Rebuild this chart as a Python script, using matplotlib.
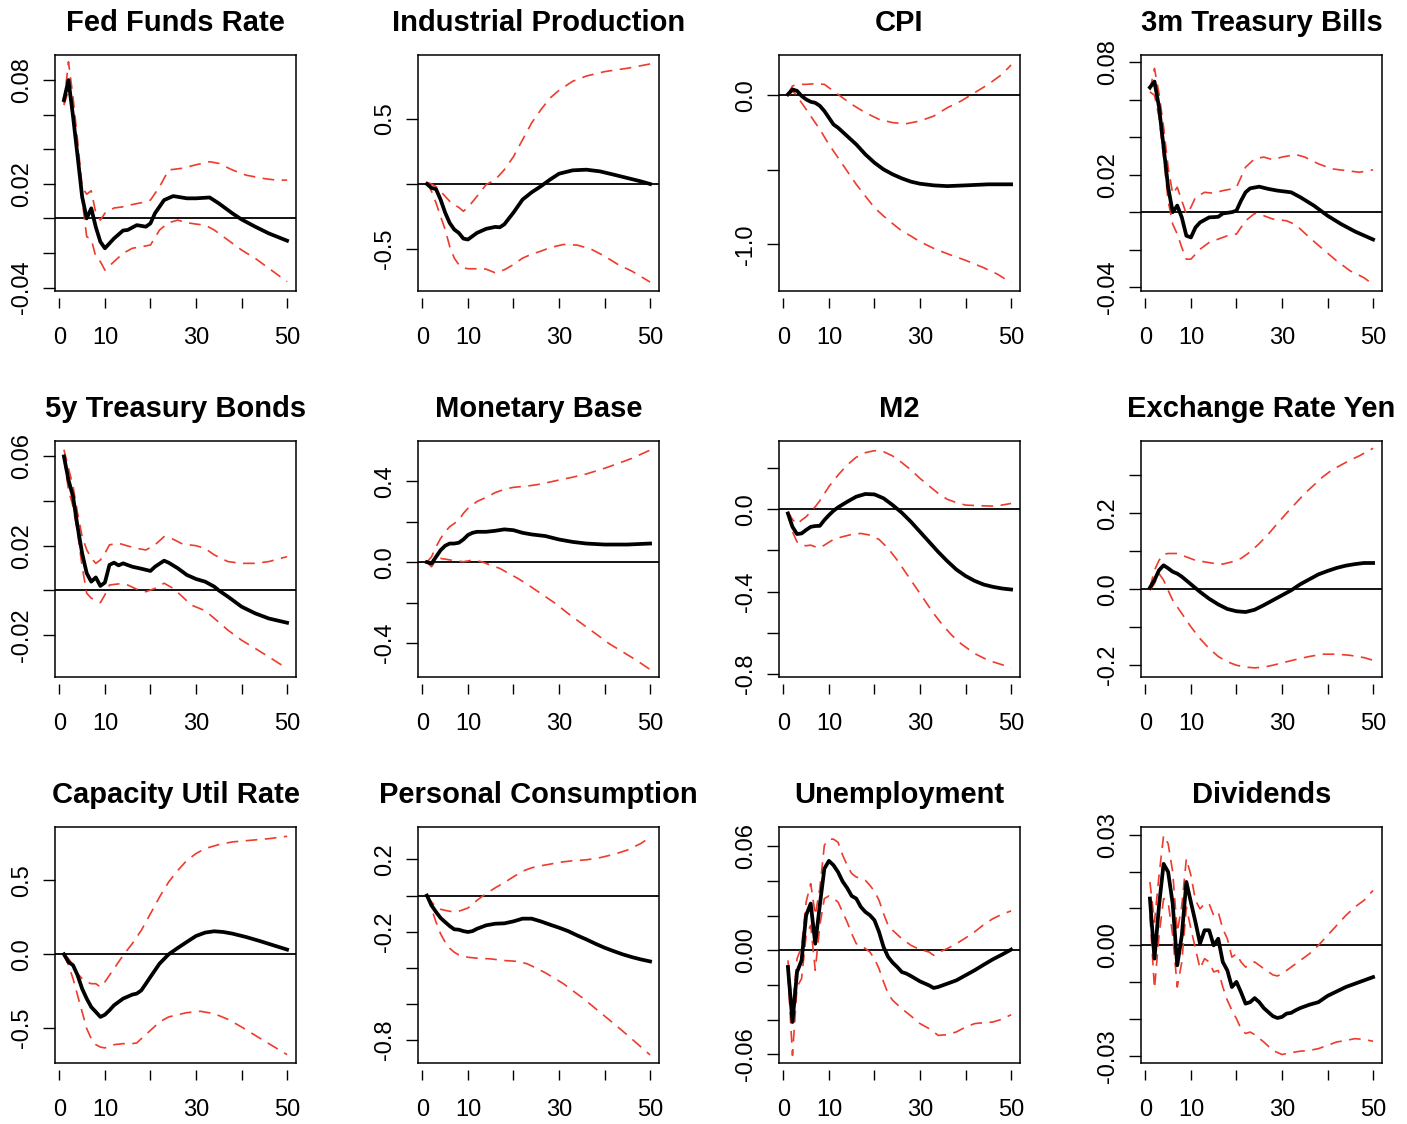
import matplotlib
matplotlib.use('Agg')
import matplotlib.pyplot as plt

# impulse responses (horizon, value)
titles = ['Fed Funds Rate', 'Industrial Production', 'CPI', '3m Treasury Bills',
          '5y Treasury Bonds', 'Monetary Base', 'M2', 'Exchange Rate Yen',
          'Capacity Util Rate', 'Personal Consumption', 'Unemployment', 'Dividends']

# Fed Funds Rate
ffr_irf_x = [1, 2, 3, 4, 5, 6, 7, 8, 9, 10, 12, 14, 15, 17, 19, 20, 21, 23, 25, 28, 30, 33, 35, 38, 40, 43, 46, 50]
ffr_irf = [0.0684, 0.080, 0.059, 0.036, 0.0125, 0.0, 0.0058, -0.005, -0.0135, -0.0173, -0.0116, -0.007, -0.0067,
           -0.0039, -0.0048, -0.0029, 0.003, 0.0106, 0.0129, 0.0116, 0.0116, 0.0121, 0.0087, 0.0029, -0.0006,
           -0.0048, -0.0087, -0.0129]
ffr_up_x = [1, 2, 3, 4, 5, 6, 7, 8, 9, 10, 12, 14, 16, 19, 20, 22, 24, 27, 30, 33, 35, 38, 41, 45, 48, 50]
ffr_up = [0.0665, 0.0906, 0.070, 0.045, 0.018, 0.014, 0.016, 0.003, -0.001, 0.003, 0.006, 0.0067, 0.008, 0.0096,
          0.0106, 0.0183, 0.028, 0.029, 0.031, 0.0328, 0.0318, 0.028, 0.025, 0.023, 0.022, 0.0222]
ffr_lo_x = [1, 2, 3, 4, 5, 6, 7, 8, 9, 10, 12, 14, 16, 18, 20, 22, 24, 26, 28, 30, 32, 34, 37, 40, 43, 46, 50]
ffr_lo = [0.0655, 0.074, 0.0626, 0.0395, 0.0106, -0.0106, -0.012, -0.0222, -0.025, -0.0299, -0.025, -0.0202,
          -0.0173, -0.0164, -0.0154, -0.0067, -0.0025, -0.001, -0.0025, -0.0033, -0.0039, -0.0067, -0.0125,
          -0.0183, -0.0231, -0.0289, -0.0366]

# Industrial Production
ip_irf_x = [1, 2, 3, 4, 5, 6, 7, 8, 9, 10, 12, 14, 16, 17, 18, 20, 22, 24, 26, 28, 30, 33, 36, 39, 42, 45, 48, 50]
ip_irf = [0.0, -0.03, -0.04, -0.12, -0.22, -0.30, -0.35, -0.376, -0.42, -0.427, -0.376, -0.345, -0.33, -0.333,
          -0.31, -0.22, -0.12, -0.064, -0.018, 0.033, 0.079, 0.105, 0.11, 0.097, 0.072, 0.046, 0.02, 0.0]
ip_up_x = [1, 2, 3, 4, 5, 6, 7, 8, 9, 10, 12, 14, 16, 18, 20, 22, 24, 26, 28, 30, 33, 36, 40, 45, 50]
ip_up = [0.013, 0.0, -0.02, -0.056, -0.095, -0.133, -0.16, -0.18, -0.21, -0.18, -0.095, -0.005, 0.033, 0.11,
         0.21, 0.34, 0.47, 0.57, 0.66, 0.72, 0.79, 0.83, 0.864, 0.89, 0.923]
ip_lo_x = [1, 2, 3, 4, 5, 6, 7, 8, 9, 10, 12, 14, 16, 18, 20, 22, 24, 26, 28, 31, 34, 37, 40, 43, 46, 50]
ip_lo = [0.013, -0.056, -0.146, -0.25, -0.35, -0.48, -0.57, -0.62, -0.644, -0.652, -0.652, -0.655, -0.683,
         -0.66, -0.62, -0.57, -0.54, -0.517, -0.49, -0.465, -0.47, -0.50, -0.555, -0.62, -0.67, -0.754]

# CPI
cpi_irf_x = [1, 2, 3, 4, 5, 6, 7, 8, 9, 10, 11, 12, 14, 16, 18, 20, 22, 24, 26, 28, 30, 33, 36, 40, 45, 50]
cpi_irf = [0.007, 0.04, 0.03, -0.004, -0.027, -0.043, -0.05, -0.07, -0.105, -0.15, -0.195, -0.217, -0.273,
           -0.329, -0.396, -0.452, -0.497, -0.53, -0.557, -0.579, -0.593, -0.604, -0.609, -0.604, -0.597, -0.597]
cpi_up_x = [1, 2, 3, 5, 7, 9, 11, 13, 15, 18, 21, 24, 27, 30, 33, 36, 39, 42, 45, 48, 50]
cpi_up = [0.007, 0.063, 0.074, 0.074, 0.078, 0.074, 0.029, -0.016, -0.06, -0.116, -0.161, -0.183, -0.19,
          -0.172, -0.139, -0.083, -0.038, 0.018, 0.074, 0.141, 0.204]
cpi_lo_x = [1, 2, 3, 4, 5, 6, 8, 10, 12, 14, 16, 18, 20, 22, 24, 26, 28, 30, 33, 36, 40, 44, 47, 50]
cpi_lo = [-0.004, 0.03, -0.004, -0.05, -0.094, -0.139, -0.228, -0.329, -0.418, -0.508, -0.597, -0.676, -0.754,
          -0.81, -0.861, -0.91, -0.944, -0.982, -1.027, -1.063, -1.107, -1.157, -1.2, -1.257]

# 3m Treasury Bills
tb_irf_x = [1, 2, 3, 4, 5, 6, 7, 8, 9, 10, 11, 12, 14, 16, 17, 19, 20, 21, 22, 23, 25, 27, 29, 32, 34, 37, 40,
            43, 46, 50]
tb_irf = [0.0666, 0.0697, 0.056, 0.0348, 0.0133, 0.0, 0.0035, -0.0028, -0.0126, -0.0135, -0.0082, -0.0055,
          -0.0028, -0.0025, -0.0007, 0.0, 0.0008, 0.0061, 0.0106, 0.0127, 0.0136, 0.0124, 0.0115, 0.0106, 0.008,
          0.0035, -0.0019, -0.0064, -0.0103, -0.0146]
tb_up_x = [1, 2, 3, 4, 5, 6, 7, 8, 9, 10, 11, 13, 15, 17, 19, 20, 22, 24, 26, 28, 30, 33, 35, 38, 41, 44, 47, 50]
tb_up = [0.0651, 0.0767, 0.0633, 0.0455, 0.024, 0.0097, 0.0133, 0.0061, -0.001, 0.0026, 0.0079, 0.0106, 0.0101,
         0.0115, 0.0124, 0.0133, 0.024, 0.0285, 0.0294, 0.028, 0.0294, 0.0308, 0.0294, 0.0258, 0.0231, 0.0222,
         0.0213, 0.0226]
tb_lo_x = [1, 2, 3, 4, 5, 6, 7, 8, 9, 10, 12, 14, 16, 18, 20, 22, 24, 26, 28, 31, 33, 36, 39, 42, 45, 48, 50]
tb_lo = [0.0642, 0.0624, 0.0508, 0.0294, 0.0061, -0.0064, -0.0117, -0.0189, -0.0251, -0.0251, -0.0198, -0.0162,
         -0.0144, -0.0126, -0.0117, -0.0046, -0.0007, -0.0019, -0.0037, -0.0046, -0.0067, -0.0135, -0.0198,
         -0.026, -0.0314, -0.035, -0.0386]

# 5y Treasury Bonds
tn_irf_x = [1, 2, 3, 4, 5, 6, 7, 8, 9, 10, 11, 12, 13, 14, 16, 18, 20, 21, 23, 24, 26, 28, 30, 32, 34, 35, 37,
            40, 43, 46, 50]
tn_irf = [0.06, 0.0495, 0.042, 0.0285, 0.0166, 0.0077, 0.0039, 0.0058, 0.002, 0.0035, 0.0114, 0.0124, 0.0112,
          0.0121, 0.0106, 0.0097, 0.0087, 0.0106, 0.0133, 0.0124, 0.0099, 0.0069, 0.0051, 0.0039, 0.0017, 0.0,
          -0.0028, -0.0073, -0.0103, -0.0126, -0.0145]
tn_up_x = [1, 2, 3, 4, 5, 6, 7, 8, 9, 10, 11, 13, 15, 17, 19, 21, 23, 25, 27, 30, 32, 34, 37, 40, 43, 46, 50]
tn_up = [0.063, 0.0548, 0.0466, 0.0346, 0.0241, 0.0182, 0.0144, 0.0121, 0.0136, 0.0166, 0.0204, 0.0211, 0.0199,
         0.0188, 0.0181, 0.0204, 0.0241, 0.0229, 0.0208, 0.02, 0.0188, 0.0159, 0.0129, 0.0121, 0.0121, 0.0129,
         0.0151]
tn_lo_x = [1, 2, 3, 4, 5, 6, 7, 8, 9, 10, 11, 13, 15, 17, 19, 21, 23, 25, 27, 29, 32, 34, 37, 40, 43, 46, 50]
tn_lo = [0.0593, 0.045, 0.0376, 0.0256, 0.0107, -0.0013, -0.0035, -0.0043, -0.0055, -0.002, 0.0024, 0.0029,
         0.0024, 0.0005, -0.0006, 0.0009, 0.0032, 0.0009, -0.0028, -0.0066, -0.0091, -0.0125, -0.0178, -0.0223,
         -0.026, -0.0298, -0.035]

# Monetary Base
mb_irf_x = [1, 2, 3, 4, 5, 6, 7, 8, 9, 10, 11, 12, 14, 16, 18, 20, 22, 24, 27, 30, 33, 36, 40, 45, 50]
mb_irf = [0.0, -0.007, 0.026, 0.059, 0.081, 0.092, 0.092, 0.096, 0.112, 0.134, 0.145, 0.15, 0.15, 0.155, 0.162,
          0.158, 0.145, 0.137, 0.129, 0.112, 0.1, 0.092, 0.087, 0.087, 0.092]
mb_up_x = [1, 2, 3, 4, 5, 6, 7, 8, 9, 10, 12, 14, 16, 18, 20, 23, 26, 30, 33, 36, 40, 43, 46, 50]
mb_up = [0.0, 0.026, 0.076, 0.117, 0.15, 0.175, 0.191, 0.208, 0.241, 0.266, 0.3, 0.32, 0.344, 0.36, 0.37, 0.376,
         0.386, 0.406, 0.42, 0.436, 0.464, 0.488, 0.513, 0.554]
mb_lo_x = [1, 2, 3, 4, 5, 7, 9, 11, 13, 15, 17, 19, 21, 23, 26, 29, 32, 35, 38, 41, 44, 47, 50]
mb_lo = [0.0, -0.023, 0.01, 0.018, 0.015, 0.007, 0.002, 0.01, 0.002, -0.015, -0.031, -0.056, -0.081, -0.109,
         -0.155, -0.201, -0.254, -0.304, -0.353, -0.403, -0.444, -0.485, -0.531]

# M2
m2_irf_x = [1, 2, 3, 4, 5, 6, 7, 8, 9, 10, 11, 12, 14, 16, 18, 20, 22, 24, 26, 28, 30, 32, 34, 36, 38, 40, 42,
            44, 46, 48, 50]
m2_irf = [-0.02, -0.085, -0.12, -0.117, -0.1, -0.085, -0.081, -0.08, -0.052, -0.028, -0.007, 0.01, 0.037, 0.062,
          0.075, 0.073, 0.054, 0.021, -0.016, -0.06, -0.109, -0.158, -0.207, -0.252, -0.293, -0.324, -0.348,
          -0.366, -0.377, -0.385, -0.39]
m2_up_x = [1, 2, 3, 4, 5, 6, 7, 8, 10, 12, 14, 16, 18, 20, 22, 24, 26, 28, 30, 32, 34, 36, 38, 40, 43, 46, 48, 50]
m2_up = [-0.011, -0.049, -0.072, -0.052, -0.036, -0.011, 0.013, 0.042, 0.111, 0.167, 0.216, 0.254, 0.276, 0.286,
         0.281, 0.26, 0.228, 0.192, 0.151, 0.114, 0.078, 0.049, 0.033, 0.021, 0.018, 0.016, 0.021, 0.029]
m2_lo_x = [1, 2, 3, 4, 5, 6, 7, 8, 9, 11, 13, 15, 17, 19, 21, 23, 25, 27, 29, 31, 33, 35, 37, 39, 42, 45, 48, 50]
m2_lo = [-0.02, -0.109, -0.158, -0.174, -0.177, -0.174, -0.182, -0.187, -0.174, -0.146, -0.133, -0.122, -0.117,
         -0.125, -0.146, -0.19, -0.247, -0.312, -0.377, -0.442, -0.507, -0.564, -0.613, -0.654, -0.702, -0.735,
         -0.756, -0.771]

# Exchange Rate Yen
fx_irf_x = [1, 2, 3, 4, 5, 6, 7, 8, 10, 12, 14, 16, 18, 20, 22, 24, 26, 28, 30, 32, 34, 36, 38, 40, 42, 44, 46,
            48, 50]
fx_irf = [0.004, 0.024, 0.05, 0.063, 0.055, 0.046, 0.041, 0.033, 0.013, -0.007, -0.025, -0.04, -0.052, -0.058,
          -0.06, -0.054, -0.042, -0.029, -0.016, -0.003, 0.013, 0.026, 0.039, 0.048, 0.056, 0.062, 0.066, 0.069,
          0.069]
fx_up_x = [1, 2, 3, 4, 5, 7, 9, 11, 13, 15, 17, 19, 21, 23, 25, 27, 29, 31, 33, 35, 37, 39, 41, 43, 45, 47, 50]
fx_up = [0.004, 0.05, 0.076, 0.092, 0.094, 0.094, 0.085, 0.076, 0.072, 0.068, 0.066, 0.072, 0.081, 0.098, 0.12,
         0.145, 0.173, 0.2, 0.226, 0.252, 0.274, 0.296, 0.314, 0.327, 0.34, 0.351, 0.371]
fx_lo_x = [1, 2, 3, 4, 5, 6, 8, 10, 12, 14, 16, 18, 20, 22, 24, 26, 28, 30, 33, 36, 39, 42, 45, 48, 50]
fx_lo = [-0.003, 0.015, 0.041, 0.024, -0.003, -0.029, -0.064, -0.099, -0.13, -0.156, -0.177, -0.191, -0.2,
         -0.205, -0.207, -0.205, -0.2, -0.194, -0.185, -0.177, -0.171, -0.171, -0.174, -0.18, -0.187]

# Capacity Util Rate
cu_irf_x = [1, 2, 3, 4, 5, 6, 7, 8, 9, 10, 11, 12, 14, 16, 17, 18, 19, 20, 22, 24, 26, 28, 30, 32, 34, 36, 38,
            41, 44, 47, 50]
cu_irf = [0.0, -0.052, -0.074, -0.142, -0.233, -0.3, -0.357, -0.39, -0.424, -0.409, -0.379, -0.345, -0.3, -0.273,
          -0.266, -0.244, -0.199, -0.153, -0.063, 0.0, 0.043, 0.084, 0.124, 0.147, 0.156, 0.151, 0.14, 0.117,
          0.09, 0.061, 0.032]
cu_up_x = [1, 2, 3, 4, 5, 6, 7, 8, 9, 10, 11, 12, 14, 16, 18, 20, 22, 24, 26, 28, 30, 32, 35, 38, 42, 46, 50]
cu_up = [0.0, -0.029, -0.074, -0.131, -0.165, -0.187, -0.199, -0.199, -0.221, -0.187, -0.142, -0.097, -0.007,
         0.072, 0.163, 0.275, 0.388, 0.49, 0.568, 0.636, 0.682, 0.716, 0.743, 0.761, 0.772, 0.783, 0.799]
cu_lo_x = [1, 2, 3, 4, 5, 6, 7, 8, 9, 10, 12, 14, 16, 17, 18, 20, 22, 24, 26, 28, 31, 34, 37, 40, 43, 46, 50]
cu_lo = [0.0, -0.074, -0.165, -0.278, -0.39, -0.503, -0.571, -0.612, -0.628, -0.634, -0.612, -0.605, -0.605,
         -0.6, -0.571, -0.515, -0.458, -0.424, -0.409, -0.395, -0.386, -0.402, -0.44, -0.492, -0.549, -0.605,
         -0.679]

# Personal Consumption
pc_irf_x = [1, 2, 3, 4, 5, 6, 7, 8, 9, 10, 11, 12, 14, 16, 18, 20, 22, 24, 26, 28, 30, 32, 34, 36, 38, 40, 42,
            44, 46, 48, 50]
pc_irf = [0.0, -0.054, -0.091, -0.124, -0.147, -0.169, -0.187, -0.189, -0.197, -0.202, -0.197, -0.184, -0.165,
          -0.156, -0.154, -0.143, -0.128, -0.128, -0.143, -0.161, -0.178, -0.197, -0.221, -0.243, -0.267, -0.289,
          -0.308, -0.326, -0.341, -0.354, -0.365]
pc_up_x = [1, 2, 3, 4, 5, 6, 7, 8, 9, 10, 11, 12, 14, 16, 18, 20, 22, 24, 26, 28, 30, 33, 36, 39, 42, 45, 48, 50]
pc_up = [0.0, -0.035, -0.063, -0.076, -0.082, -0.087, -0.091, -0.087, -0.078, -0.069, -0.05, -0.026, 0.011,
         0.043, 0.072, 0.104, 0.135, 0.154, 0.165, 0.174, 0.184, 0.193, 0.198, 0.21, 0.228, 0.252, 0.289, 0.323]
pc_lo_x = [1, 2, 3, 4, 5, 6, 7, 8, 10, 12, 15, 18, 21, 23, 25, 27, 29, 31, 33, 35, 37, 39, 41, 43, 45, 47, 50]
pc_lo = [0.0, -0.072, -0.147, -0.212, -0.258, -0.292, -0.314, -0.329, -0.342, -0.347, -0.351, -0.36, -0.365,
         -0.378, -0.402, -0.428, -0.458, -0.489, -0.527, -0.564, -0.605, -0.647, -0.688, -0.73, -0.773, -0.817,
         -0.883]

# Unemployment
un_irf_x = [1, 2, 3, 4, 5, 6, 7, 8, 9, 10, 11, 12, 13, 14, 15, 16, 17, 18, 19, 20, 21, 22, 23, 24, 25, 26, 27,
            28, 30, 32, 33, 34, 36, 38, 40, 42, 44, 46, 48, 50]
un_irf = [-0.0096, -0.0413, -0.0125, -0.0058, 0.0202, 0.0269, 0.0038, 0.0259, 0.047, 0.0515, 0.049, 0.0451,
          0.0397, 0.0359, 0.0313, 0.0298, 0.025, 0.0221, 0.0202, 0.0173, 0.0106, 0.0019, -0.0038, -0.0071,
          -0.0096, -0.0125, -0.0134, -0.0148, -0.0179, -0.0202, -0.0217, -0.0211, -0.0192, -0.0173, -0.0144,
          -0.0115, -0.0083, -0.0052, -0.0025, 0.0004]
un_up_x = [1, 2, 3, 4, 5, 6, 7, 8, 9, 10, 11, 12, 13, 14, 15, 16, 17, 18, 19, 20, 21, 22, 23, 24, 26, 28, 30, 32,
           33, 34, 36, 38, 40, 42, 44, 46, 48, 50]
un_up = [-0.0058, -0.0336, -0.0048, 0.0019, 0.0278, 0.0384, 0.0202, 0.0355, 0.0605, 0.064, 0.064, 0.0622, 0.0549,
         0.049, 0.0442, 0.0422, 0.0413, 0.0403, 0.0374, 0.034, 0.0288, 0.0211, 0.0144, 0.0115, 0.0067, 0.0029,
         0.0004, -0.001, -0.0029, -0.0013, 0.001, 0.0038, 0.0071, 0.0106, 0.0148, 0.0182, 0.0207, 0.0227]
un_lo_x = [1, 2, 3, 4, 5, 6, 7, 8, 9, 10, 11, 12, 13, 14, 15, 16, 17, 18, 19, 20, 21, 22, 23, 24, 26, 28, 30, 32,
           33, 34, 36, 38, 40, 42, 44, 46, 48, 50]
un_lo = [-0.0134, -0.0605, -0.0211, -0.0163, 0.0086, 0.0144, -0.0115, 0.0144, 0.0298, 0.0313, 0.0298, 0.0278,
         0.0221, 0.0163, 0.0096, 0.0038, 0.0029, 0.001, -0.001, -0.0048, -0.0106, -0.0182, -0.025, -0.0288,
         -0.0336, -0.0378, -0.0422, -0.0451, -0.047, -0.049, -0.0486, -0.047, -0.0442, -0.0422, -0.0417, -0.0413,
         -0.0397, -0.0371]

# Dividends
dv_irf_x = [1, 2, 3, 4, 5, 6, 7, 8, 9, 10, 11, 12, 13, 14, 15, 16, 17, 18, 19, 20, 21, 22, 23, 24, 25, 26, 27,
            28, 29, 30, 31, 32, 33, 34, 36, 38, 40, 42, 44, 46, 48, 50]
dv_irf = [0.0127, -0.0036, 0.0108, 0.0221, 0.0199, 0.0113, -0.0054, 0.0027, 0.0172, 0.0117, 0.0063, 0.0005,
          0.0041, 0.0041, 0.0, 0.0018, -0.0045, -0.0068, -0.0113, -0.0099, -0.0127, -0.0158, -0.0154, -0.0143,
          -0.0154, -0.017, -0.0181, -0.0192, -0.0197, -0.0194, -0.0185, -0.0183, -0.0176, -0.017, -0.0161,
          -0.0154, -0.0137, -0.0125, -0.0113, -0.0104, -0.0095, -0.0086]
dv_up_x = [1, 2, 3, 4, 5, 6, 7, 8, 9, 10, 11, 12, 13, 14, 15, 16, 17, 18, 19, 20, 21, 22, 24, 26, 28, 29, 30, 32,
           34, 36, 38, 40, 42, 44, 46, 48, 50]
dv_up = [0.0172, 0.0063, 0.019, 0.0298, 0.0276, 0.0199, 0.0036, 0.0108, 0.0235, 0.019, 0.0122, 0.0099, 0.0113,
         0.0113, 0.0081, 0.009, 0.0045, 0.0018, -0.0032, -0.0023, -0.0045, -0.0059, -0.0045, -0.0063, -0.008,
         -0.0083, -0.0077, -0.0059, -0.0041, -0.0023, 0.0, 0.0027, 0.0054, 0.0081, 0.0104, 0.0122, 0.0149]
dv_lo_x = [1, 2, 3, 4, 5, 6, 7, 8, 9, 10, 11, 12, 13, 14, 15, 16, 17, 18, 19, 20, 21, 22, 23, 24, 26, 28, 30, 32,
           34, 36, 38, 40, 42, 44, 46, 48, 50]
dv_lo = [0.0081, -0.0117, 0.0027, 0.0127, 0.0117, 0.0027, -0.0113, -0.0045, 0.0104, 0.0045, -0.0009, -0.0063,
         -0.0036, -0.0045, -0.0072, -0.0068, -0.0113, -0.0149, -0.0176, -0.0199, -0.0226, -0.0239, -0.0235,
         -0.0242, -0.0262, -0.0285, -0.0296, -0.0291, -0.0287, -0.0285, -0.028, -0.0271, -0.0262, -0.0258,
         -0.0253, -0.0255, -0.026]

# y axis settings per panel: limits, ticks, labels (R drops some labels)
ylims = [(-0.042, 0.0945), (-0.823, 0.992), (-1.313, 0.271), (-0.0421, 0.0839),
         (-0.0388, 0.0669), (-0.568, 0.599), (-0.816, 0.333), (-0.231, 0.39),
         (-0.736, 0.862), (-0.928, 0.38), (-0.0649, 0.071), (-0.0319, 0.0321)]
yticks = [[-0.04, -0.02, 0.0, 0.02, 0.04, 0.06, 0.08], [-0.5, 0.0, 0.5], [-1.0, -0.5, 0.0],
          [-0.04, -0.02, 0.0, 0.02, 0.04, 0.06, 0.08], [-0.02, 0.0, 0.02, 0.04, 0.06],
          [-0.4, -0.2, 0.0, 0.2, 0.4], [-0.8, -0.6, -0.4, -0.2, 0.0, 0.2],
          [-0.2, -0.1, 0.0, 0.1, 0.2, 0.3], [-0.5, 0.0, 0.5], [-0.8, -0.6, -0.4, -0.2, 0.0, 0.2],
          [-0.06, -0.04, -0.02, 0.0, 0.02, 0.04, 0.06], [-0.03, -0.02, -0.01, 0.0, 0.01, 0.02, 0.03]]
ylabels = [['-0.04', '', '', '0.02', '', '', '0.08'], ['-0.5', '', '0.5'], ['-1.0', '', '0.0'],
           ['-0.04', '', '', '0.02', '', '', '0.08'], ['-0.02', '', '0.02', '', '0.06'],
           ['-0.4', '', '0.0', '', '0.4'], ['-0.8', '', '-0.4', '', '0.0', ''],
           ['-0.2', '', '0.0', '', '0.2', ''], ['-0.5', '0.0', '0.5'], ['-0.8', '', '', '-0.2', '', '0.2'],
           ['-0.06', '', '', '0.00', '', '', '0.06'], ['-0.03', '', '', '0.00', '', '', '0.03']]
xticks = [0, 10, 20, 30, 40, 50]
xlabels = ['0', '10', '', '30', '', '50']

series = [(ffr_irf_x, ffr_irf, ffr_up_x, ffr_up, ffr_lo_x, ffr_lo),
          (ip_irf_x, ip_irf, ip_up_x, ip_up, ip_lo_x, ip_lo),
          (cpi_irf_x, cpi_irf, cpi_up_x, cpi_up, cpi_lo_x, cpi_lo),
          (tb_irf_x, tb_irf, tb_up_x, tb_up, tb_lo_x, tb_lo),
          (tn_irf_x, tn_irf, tn_up_x, tn_up, tn_lo_x, tn_lo),
          (mb_irf_x, mb_irf, mb_up_x, mb_up, mb_lo_x, mb_lo),
          (m2_irf_x, m2_irf, m2_up_x, m2_up, m2_lo_x, m2_lo),
          (fx_irf_x, fx_irf, fx_up_x, fx_up, fx_lo_x, fx_lo),
          (cu_irf_x, cu_irf, cu_up_x, cu_up, cu_lo_x, cu_lo),
          (pc_irf_x, pc_irf, pc_up_x, pc_up, pc_lo_x, pc_lo),
          (un_irf_x, un_irf, un_up_x, un_up, un_lo_x, un_lo),
          (dv_irf_x, dv_irf, dv_up_x, dv_up, dv_lo_x, dv_lo)]

plt.rcParams['font.family'] = ['Liberation Sans', 'DejaVu Sans']
red = '#ee3b2c'

W, H = 1407, 1124
fig = plt.figure(figsize=(W / 100, H / 100), dpi=100)
lefts = [55, 418, 779, 1141]
tops = [55, 441, 827]
aw, ah = 241, 236

for i, (ix, iy, ux, uy, lx, ly) in enumerate(series):
    r, c = divmod(i, 4)
    ax = fig.add_axes([lefts[c] / W, 1 - (tops[r] + ah) / H, aw / W, ah / H])
    ax.axhline(0, color='black', lw=1.3, zorder=1)
    ax.plot(ux, uy, color=red, lw=1.2, dashes=(7, 4.5), zorder=2)
    ax.plot(lx, ly, color=red, lw=1.2, dashes=(7, 4.5), zorder=2)
    ax.plot(ix, iy, color='black', lw=2.7, zorder=3, solid_joinstyle='round')
    ax.set_xlim(-0.96, 51.96)
    ax.set_ylim(*ylims[i])
    for s in ax.spines.values():
        s.set_linewidth(1.1)

    ax.set_yticks(yticks[i])
    ax.set_yticklabels(ylabels[i], rotation=90, va='center')
    ax.tick_params(axis='y', direction='out', length=8.5, width=1.0, labelsize=17, pad=7)

    # x axis drawn a little below the box, like R
    ax.tick_params(axis='x', bottom=False, labelbottom=False)
    sec = ax.secondary_xaxis(-0.03)
    sec.spines['bottom'].set_visible(False)
    sec.set_xticks(xticks)
    sec.set_xticklabels(xlabels)
    sec.tick_params(direction='out', length=7, width=1.0, labelsize=17, pad=14)

    ax.set_title(titles[i], fontsize=21, fontweight='bold', pad=17)

fig.savefig('out.png', dpi=100)
